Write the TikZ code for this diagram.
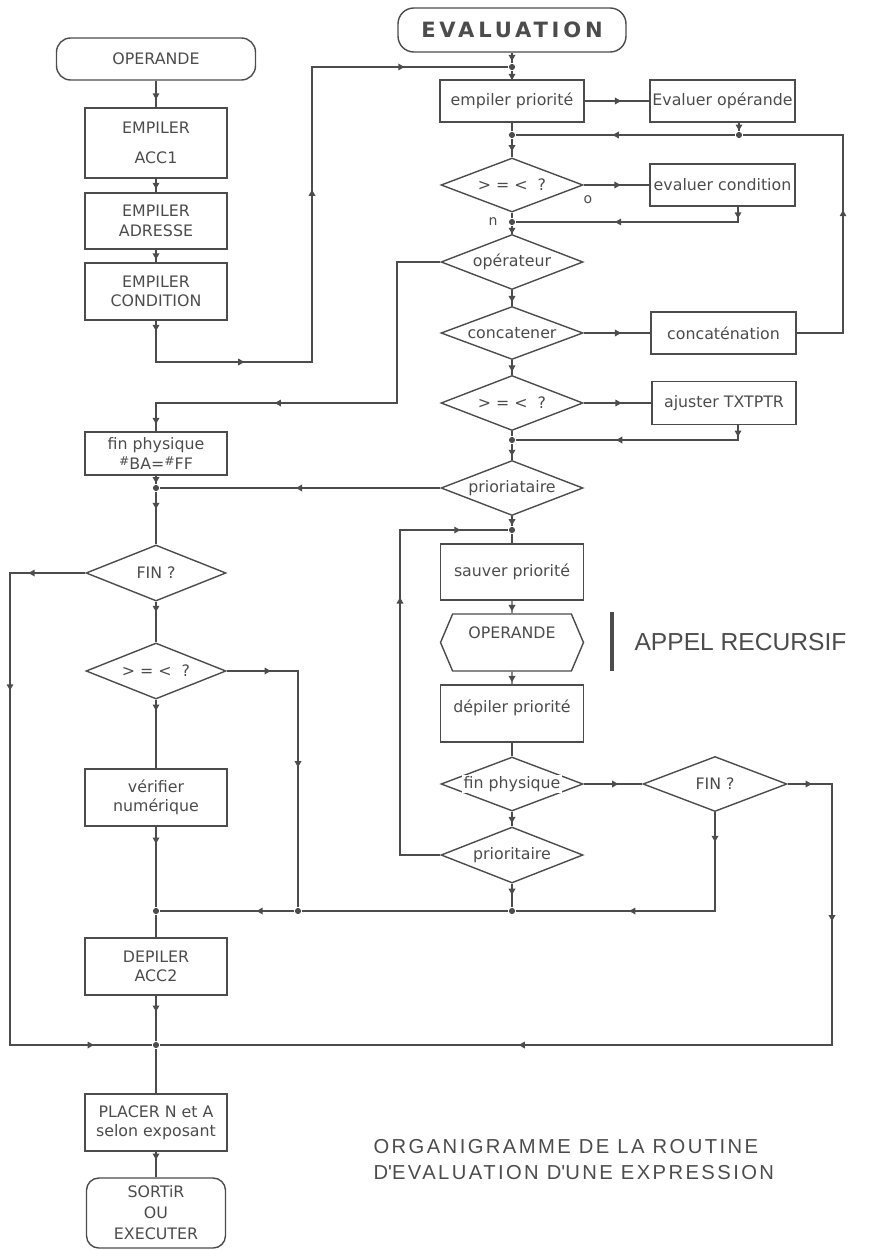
\documentclass[tikz,border=0pt]{standalone}
\usepackage{fontspec}
\usepackage{tikz}
\usetikzlibrary{shapes.geometric,shapes.symbols}
\newfontfamily\chartfont{DejaVu Sans}
\newfontfamily\titlefont[LetterSpace=18]{DejaVu Sans}
\newfontfamily\notefont{Liberation Sans}
\newfontfamily\capfont[LetterSpace=12]{Liberation Sans}
\definecolor{ink}{gray}{0.3}
\newcommand{\dtxt}[1]{\makebox[0pt]{\setlength{\fboxsep}{1pt}\colorbox{white}{#1}}}
\newcommand{\diese}{\raisebox{.45ex}{\scriptsize\#}}

\begin{document}
\begin{tikzpicture}[x=.02cm,y=-.02cm,line width=.8pt,color=ink,
  font=\chartfont\fontsize{9}{11}\selectfont,
  etape/.style={draw,rectangle,minimum width=2.84cm,minimum height=#1,inner sep=1pt,align=center},
  etape/.default=1.14cm,
  borne/.style={draw,rounded corners=8pt,minimum width=#1,minimum height=.84cm,align=center},
  choix/.style={draw,diamond,inner sep=0pt,minimum width=2.84cm,minimum height=1.1cm},
  jonc/.style={circle,fill,inner sep=0pt,minimum size=3.5pt},
  fl/.style={regular polygon,regular polygon sides=3,shape border rotate=-90,fill,inner sep=0pt,
    minimum size=4.6pt,sloped,allow upside down,pos=#1}]
\useasboundingbox (0,0) rectangle (871,1250);

\node[borne=3.98cm] (op) at (156,59) {OPERANDE};
\node[etape=1.4cm] (acc1) at (156,143) {EMPILER\\[6pt]ACC1};
\node[etape=1.12cm] (adr) at (156,221) {EMPILER\\ADRESSE};
\node[etape] (cond) at (156,291.5) {EMPILER\\CONDITION};
\node[etape=.86cm] (fph) at (156,453.5) {fin physique\\\diese BA=\diese FF};
\node[choix,minimum width=2.8cm,minimum height=1.12cm] (fin1) at (156,573) {\dtxt{FIN ?}};
\node[choix,minimum width=2.8cm,minimum height=1.12cm] (cmp2) at (156,671) {\dtxt{> = < ~?}};
\node[etape] (ver) at (156,797.5) {vérifier\\numérique};
\node[etape] (dep) at (156,966.5) {DEPILER\\ACC2};
\node[etape] (pla) at (156,1122.5) {PLACER N et A\\selon exposant};
\node[borne=2.78cm,minimum height=1.4cm,rounded corners=7pt] (sor) at (156,1213) {SORTiR\\[1pt]OU\\[1pt]EXECUTER};

\node[borne=4.56cm,minimum height=.88cm,rounded corners=9pt,
  font=\titlefont\bfseries\fontsize{12}{14}\selectfont] (eval) at (512,30) {EVALUATION};
\node[etape=.84cm,minimum width=2.88cm] (epr) at (512,101) {empiler priorité};
\node[etape=.84cm,minimum width=2.9cm] (evo) at (722.5,101) {Evaluer opérande};
\node[choix,minimum height=1.08cm] (cmp1) at (512,185) {\dtxt{> = < ~?}};
\node[etape=.84cm,minimum width=2.9cm] (evc) at (722.5,185) {evaluer condition};
\node[choix] (opr) at (512,262) {\dtxt{opérateur}};
\node[choix,minimum height=1.06cm] (cat) at (512,333) {\dtxt{concatener}};
\node[etape=.84cm,minimum width=2.9cm] (con) at (723.5,333) {concaténation};
\node[choix] (cmp3) at (512,403) {\dtxt{> = < ~?}};
\node[etape=.86cm,minimum width=2.88cm] (ajt) at (724,403) {ajuster TXTPTR};
\node[choix] (pri1) at (512,488) {\dtxt{prioriataire}};
\node[etape=1.12cm,minimum width=2.86cm] (sau) at (512,572) {sauver priorité};
\node[draw,signal,signal to=west and east,signal pointer angle=134,minimum width=2.86cm,
  minimum height=1.14cm,inner sep=0pt,text height=6.5pt,text depth=11pt] (hex) at (512,642.5) {OPERANDE};
\node[etape=1.14cm,minimum width=2.86cm,text height=7pt,text depth=8pt] (dep2) at (512,713.5) {dépiler priorité};
\node[choix,minimum height=1.08cm] (fph2) at (512,784) {\dtxt{fin physique}};
\node[choix,minimum width=2.88cm] (fin2) at (715,784) {\dtxt{FIN ?}};
\node[choix,minimum height=1.12cm] (pri2) at (512,855) {\dtxt{prioritaire}};

\node[font=\chartfont\fontsize{8}{10}\selectfont] (lo) at (588,200) {o};
\node[font=\chartfont\fontsize{8}{10}\selectfont] (ln) at (493,222) {n};
\draw[line width=2.2pt] (612,612) -- (612,671);
\node[anchor=west,font=\notefont\fontsize{14}{16}\selectfont] (appel) at (628,642) {APPEL RECURSIF};
\node[anchor=west,align=left,font=\capfont\fontsize{11.5}{14.8}\selectfont] (titre) at (367,1160)
  {ORGANIGRAMME DE LA ROUTINE\\D\textquotesingle EVALUATION D\textquotesingle UNE EXPRESSION};

\node[jonc] (jA) at (512,67) {};
\node[jonc] (jB) at (512,135) {};
\node[jonc] (jC) at (739,135) {};
\node[jonc] (jD) at (512,222) {};
\node[jonc] (jE) at (156,488) {};
\node[jonc] (jF) at (512,440) {};
\node[jonc] (jG) at (512,530) {};
\node[jonc] (jH) at (156,911) {};
\node[jonc] (jI) at (298,911) {};
\node[jonc] (jJ) at (512,911) {};
\node[jonc] (jK) at (156,1045) {};

\coordinate (cA) at (156,362);
\coordinate (cB) at (312,362);
\coordinate (cC) at (312,67);
\coordinate (cD) at (843,135);
\coordinate (cE) at (843,333);
\coordinate (cF) at (738,222);
\coordinate (cG) at (397,262);
\coordinate (cH) at (397,403);
\coordinate (cI) at (156,403);
\coordinate (cJ) at (738,440);
\coordinate (cK) at (10,573);
\coordinate (cL) at (10,1045);
\coordinate (cM) at (298,671);
\coordinate (cN) at (400,855);
\coordinate (cO) at (400,530);
\coordinate (cP) at (832,784);
\coordinate (cQ) at (832,1045);
\coordinate (cR) at (715,911);

\draw (op) -- node[fl=.55]{} (acc1);
\draw (acc1) -- node[fl=.45]{} (adr);
\draw (adr) -- node[fl=.45]{} (cond);
\draw (cond) -- node[fl=.15]{} (cA) -- node[fl=.54]{} (cB) -- node[fl=.57]{} (cC) -- node[fl=.45]{} (jA);
\draw (eval) -- node[fl=.4]{} (jA);
\draw (jA) -- node[fl=.6]{} (epr);
\draw (epr) -- node[fl=.5]{} (evo);
\draw (jC |- evo.south) -- node[fl=.45]{} (jC);
\draw (con) -- (cE) -- node[fl=.6]{} (cD) -- (jC) -- node[fl=.54]{} (jB);
\draw (epr) -- (jB);
\draw (jB) -- node[fl=.45]{} (cmp1);
\draw (cmp1) -- node[fl=.5]{} (evc);
\draw (cF |- evc.south) -- node[fl=.5]{} (cF) -- node[fl=.535]{} (jD);
\draw (cmp1) -- (jD);
\draw (jD) -- node[fl=.5]{} (opr);
\draw (opr) -- node[fl=.5]{} (cat);
\draw (opr) -- (cG) -- (cH) -- node[fl=.49]{} (cI) -- node[fl=.6]{} (fph);
\draw (cat) -- node[fl=.5]{} (con);
\draw (cat) -- node[fl=.5]{} (cmp3);
\draw (cmp3) -- node[fl=.5]{} (ajt);
\draw (cJ |- ajt.south) -- node[fl=.5]{} (cJ) -- node[fl=.53]{} (jF);
\draw (cmp3) -- (jF);
\draw (jF) -- node[fl=.5]{} (pri1);
\draw (pri1) -- node[fl=.5]{} (jE);
\draw (fph) -- node[fl=.4]{} (jE);
\draw (jE) -- node[fl=.25]{} (fin1);
\draw (pri1) -- node[fl=.5]{} (jG);
\draw (jG) -- (sau);
\draw (pri2) -- (cN) -- node[fl=.78]{} (cO) -- node[fl=.52]{} (jG);
\draw (sau) -- node[fl=.5]{} (hex);
\draw (hex) -- node[fl=.5]{} (dep2);
\draw (dep2) -- (fph2);
\draw (fph2) -- node[fl=.52]{} (fin2);
\draw (fin2) -- node[fl=.45]{} (cP) -- node[fl=.51]{} (cQ) -- node[fl=.46]{} (jK);
\draw (fin2) -- node[fl=.26]{} (cR) -- node[fl=.41]{} (jJ) -- (jI) -- node[fl=.25]{} (jH);
\draw (fph2) -- node[fl=.5]{} (pri2);
\draw (pri2) -- node[fl=.3]{} (jJ);
\draw (fin1) -- node[fl=.7]{} (cK) -- node[fl=.24]{} (cL) -- node[fl=.56]{} (jK);
\draw (fin1) -- node[fl=.15]{} (cmp2);
\draw (cmp2) -- node[fl=.56]{} (cM) -- node[fl=.39]{} (jI);
\draw (cmp2) -- node[fl=.1]{} (ver);
\draw (ver) -- node[fl=.16]{} (jH);
\draw (jH) -- (dep);
\draw (dep) -- node[fl=.26]{} (jK);
\draw (jK) -- (pla);
\draw (pla) -- node[fl=.15]{} (sor);
\end{tikzpicture}
\end{document}
